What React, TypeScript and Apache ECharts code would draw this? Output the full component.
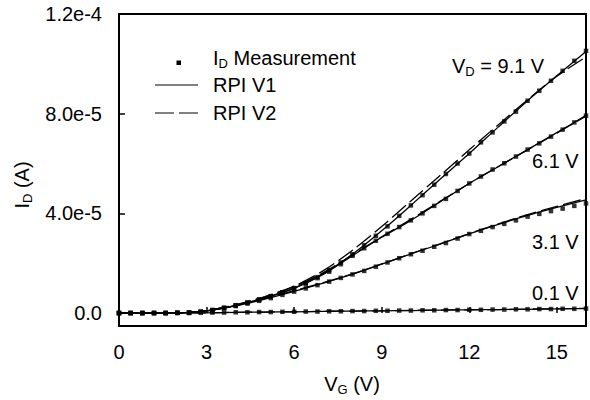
import React, { useEffect, useRef } from "react";
import * as echarts from "echarts";

const FONT = "'Liberation Sans', Arial, Helvetica, sans-serif";

// Gate voltage (V) of the measured points
const VG = [0, 0.4, 0.8, 1.2, 1.6, 2.0, 2.4, 2.8, 3.2, 3.6, 4.0, 4.4, 4.8, 5.2, 5.6, 6.0, 6.4, 6.8, 7.2, 7.6, 8.0,
  8.4, 8.8, 9.2, 9.6, 10.0, 10.4, 10.8, 11.2, 11.6, 12.0, 12.4, 12.8, 13.2, 13.6, 14.0, 14.4, 14.8, 15.2, 15.6, 16.0];

// Measured drain current, units of 1e-5 A
const ID_91 = [0, 0, 0, 0, 0, 0.01, 0.02, 0.05, 0.12, 0.21, 0.31, 0.42, 0.54, 0.68, 0.83, 1.0, 1.2, 1.44, 1.72, 2.03, 2.36,
  2.72, 3.1, 3.48, 3.9, 4.32, 4.73, 5.15, 5.58, 6.0, 6.4, 6.85, 7.25, 7.69, 8.08, 8.52, 8.92, 9.32, 9.72, 10.12, 10.52];
const ID_61 = [0, 0, 0, 0, 0, 0.01, 0.02, 0.05, 0.12, 0.21, 0.31, 0.42, 0.54, 0.67, 0.82, 0.99, 1.18, 1.4, 1.66, 1.96, 2.3,
  2.6, 2.9, 3.18, 3.45, 3.72, 4.0, 4.3, 4.58, 4.9, 5.2, 5.48, 5.76, 6.01, 6.28, 6.56, 6.81, 7.08, 7.36, 7.65, 7.92];
const ID_31 = [0, 0, 0, 0, 0, 0.01, 0.02, 0.05, 0.11, 0.19, 0.28, 0.38, 0.49, 0.6, 0.73, 0.86, 0.99, 1.12, 1.26, 1.41, 1.55,
  1.69, 1.86, 2.03, 2.2, 2.36, 2.5, 2.66, 2.81, 2.99, 3.17, 3.3, 3.45, 3.58, 3.72, 3.87, 3.98, 4.09, 4.19, 4.3, 4.4];
const ID_01 = [0, 0, 0, 0, 0, 0, 0, 0.01, 0.02, 0.02, 0.03, 0.03, 0.04, 0.04, 0.05, 0.05, 0.06, 0.06, 0.07, 0.07, 0.08,
  0.08, 0.09, 0.09, 0.1, 0.1, 0.11, 0.11, 0.12, 0.12, 0.13, 0.13, 0.14, 0.14, 0.15, 0.15, 0.16, 0.16, 0.17, 0.17, 0.18];

// Model curves (RPI V1, RPI V2), units of 1e-5 A
const VG_MODEL = [0, 1, 2, 3, 4, 5, 6, 7, 8, 9, 10, 11, 12, 13, 14, 15, 16];
const V1_91 = [0, 0, 0.01, 0.09, 0.31, 0.61, 1.0, 1.58, 2.36, 3.3, 4.32, 5.37, 6.4, 7.47, 8.52, 9.52, 10.5];
const V2_91 = [0, 0, 0.01, 0.1, 0.33, 0.66, 1.08, 1.7, 2.52, 3.47, 4.5, 5.52, 6.55, 7.56, 8.56, 9.5, 10.28];
const V1_61 = [0, 0, 0.01, 0.09, 0.31, 0.61, 0.99, 1.55, 2.3, 3.04, 3.72, 4.46, 5.2, 5.88, 6.56, 7.24, 7.93];
const V2_61 = [0, 0, 0.01, 0.1, 0.33, 0.65, 1.06, 1.62, 2.34, 3.06, 3.76, 4.48, 5.2, 5.88, 6.55, 7.22, 7.9];
const V1_31 = [0, 0, 0.01, 0.09, 0.29, 0.56, 0.87, 1.2, 1.56, 1.96, 2.37, 2.77, 3.18, 3.56, 3.92, 4.24, 4.54];
const V2_31 = [0, 0, 0.01, 0.1, 0.31, 0.59, 0.9, 1.22, 1.57, 1.97, 2.38, 2.78, 3.19, 3.58, 3.95, 4.28, 4.6];
const V1_01 = [0, 0, 0, 0.01, 0.03, 0.04, 0.05, 0.07, 0.08, 0.09, 0.1, 0.12, 0.13, 0.14, 0.15, 0.17, 0.18];
const V2_01 = [0, 0, 0, 0.01, 0.03, 0.04, 0.05, 0.07, 0.08, 0.09, 0.11, 0.12, 0.13, 0.14, 0.16, 0.17, 0.19];

const X_TICKS = [0, 3, 6, 9, 12, 15];
const Y_TICKS = [0, 4, 8, 12];
const UNIT = 1e-5;

const pairs = (xs: number[], ys: number[]) => xs.map((x, i) => [x, ys[i]]);

const rich = {
  m: { fontSize: 20, fontFamily: FONT, color: "#000", lineHeight: 24 },
  s: { fontSize: 13, fontFamily: FONT, color: "#000", lineHeight: 13, verticalAlign: "bottom" as const },
};

export default function App() {
  const ref = useRef<HTMLDivElement>(null);
  useEffect(() => {
    const chart = echarts.init(ref.current!, null, { renderer: "svg" });
    const measSeries = [ID_91, ID_61, ID_31, ID_01].map((d) => ({
      type: "scatter",
      data: pairs(VG, d),
      symbol: "rect",
      symbolSize: 4.5,
      itemStyle: { color: "#000" },
      z: 3,
    }));
    const modelSeries = (arrs: number[][], dashed: boolean) =>
      arrs.map((d) => ({
        type: "line",
        data: pairs(VG_MODEL, d),
        showSymbol: false,
        smooth: 0.3,
        lineStyle: { color: "#000", width: 1.3, type: dashed ? [18, 5] : "solid" },
        z: 2,
      }));
    chart.setOption({
      animation: false,
      backgroundColor: "#fff",
      grid: { left: 119, right: 4, top: 14, bottom: 74, show: true, borderColor: "#000", borderWidth: 2, backgroundColor: "transparent" },
      xAxis: {
        type: "value",
        min: 0,
        max: 16,
        axisLine: { show: false },
        splitLine: { show: false },
        axisTick: { show: true, inside: true, length: 6, customValues: X_TICKS, lineStyle: { color: "#000", width: 1.5 } },
        axisLabel: { customValues: X_TICKS, fontSize: 20, fontFamily: FONT, color: "#000", margin: 16 },
      },
      yAxis: {
        type: "value",
        min: -0.52,
        max: 12,
        axisLine: { show: false },
        splitLine: { show: false },
        axisTick: { show: true, inside: true, length: 6, customValues: Y_TICKS, lineStyle: { color: "#000", width: 1.5 } },
        axisLabel: {
          customValues: Y_TICKS,
          fontSize: 20,
          fontFamily: FONT,
          color: "#000",
          margin: 17,
          formatter: (v: number) => (v === 0 ? "0.0" : (v * UNIT).toExponential(1)),
        },
      },
      series: [...modelSeries([V1_91, V1_61, V1_31, V1_01], false), ...modelSeries([V2_91, V2_61, V2_31, V2_01], true), ...measSeries],
      graphic: [
        // legend
        { type: "rect", shape: { x: 176.5, y: 60.5, width: 4.5, height: 4.5 }, style: { fill: "#000" } },
        { type: "line", shape: { x1: 155, y1: 85, x2: 198, y2: 85 }, style: { stroke: "#000", lineWidth: 1 } },
        { type: "line", shape: { x1: 155, y1: 113, x2: 198, y2: 113 }, style: { stroke: "#000", lineWidth: 1, lineDash: [19, 5] } },
        { type: "text", x: 213, y: 58, style: { text: "{m|I}{s|D}{m| Measurement}", rich, textAlign: "left", textVerticalAlign: "middle" } },
        { type: "text", x: 213, y: 85, style: { text: "{m|RPI V1}", rich, textAlign: "left", textVerticalAlign: "middle" } },
        { type: "text", x: 213, y: 113, style: { text: "{m|RPI V2}", rich, textAlign: "left", textVerticalAlign: "middle" } },
        // curve annotations
        { type: "text", x: 452, y: 66, style: { text: "{m|V}{s|D}{m| = 9.1 V}", rich, textAlign: "left", textVerticalAlign: "middle" } },
        { type: "text", x: 532, y: 161, style: { text: "{m|6.1 V}", rich, textAlign: "left", textVerticalAlign: "middle" } },
        { type: "text", x: 532, y: 242, style: { text: "{m|3.1 V}", rich, textAlign: "left", textVerticalAlign: "middle" } },
        { type: "text", x: 532, y: 293, style: { text: "{m|0.1 V}", rich, textAlign: "left", textVerticalAlign: "middle" } },
        // axis titles
        { type: "text", x: 352, y: 384, style: { text: "{m|V}{s|G}{m| (V)}", rich, textAlign: "center", textVerticalAlign: "middle" } },
        { type: "text", x: 22, y: 185, rotation: Math.PI / 2, style: { text: "{m|I}{s|D}{m| (A)}", rich, textAlign: "center", textVerticalAlign: "middle" } },
      ],
    });
    return () => chart.dispose();
  }, []);
  return <div ref={ref} style={{ position: "fixed", left: 0, top: 0, width: 590, height: 400, background: "#fff" }} />;
}
